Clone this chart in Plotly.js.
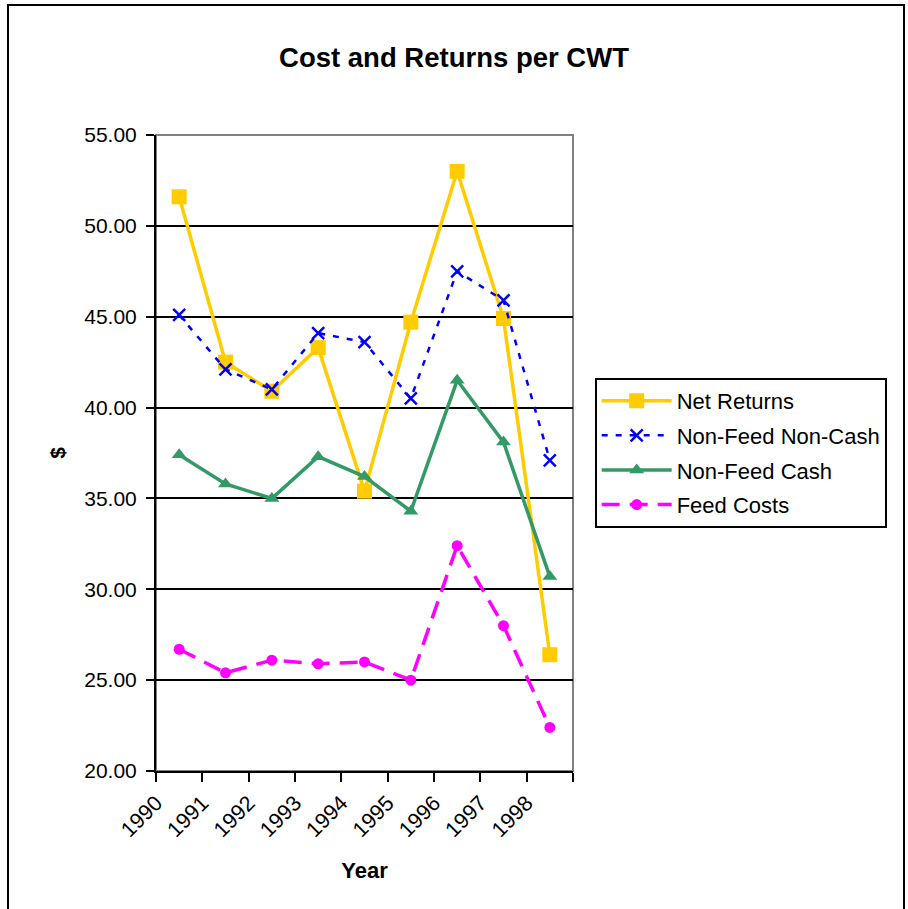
<!DOCTYPE html>
<html>
<head>
<meta charset="utf-8">
<script src="https://cdn.plot.ly/plotly-3.0.1.min.js"></script>
<style>
html,body{margin:0;padding:0;background:#fff;}
#chart{width:908px;height:909px;}
#frame{position:absolute;left:7px;top:4px;width:894px;height:910px;border:2px solid #000;pointer-events:none;}
</style>
</head>
<body>
<div id="chart"></div>
<div id="frame"></div>
<script>
const years = [1990, 1991, 1992, 1993, 1994, 1995, 1996, 1997, 1998];
const tickYears = [1990, 1991, 1992, 1993, 1994, 1995, 1996, 1997, 1998, 1999];
const tickLabels = ['1990', '1991', '1992', '1993', '1994', '1995', '1996', '1997', '1998', ''];
const netReturns = [51.6, 42.5, 40.9, 43.3, 35.4, 44.7, 53.0, 44.9, 26.4];
const nonFeedNonCash = [45.1, 42.1, 41.0, 44.1, 43.6, 40.5, 47.5, 45.9, 37.1];
const nonFeedCash = [37.4, 35.8, 35.0, 37.3, 36.2, 34.3, 41.5, 38.1, 30.7];
const feedCosts = [26.7, 25.4, 26.1, 25.9, 26.0, 25.0, 32.4, 28.0, 22.4];

// points sit midway between year tick marks (Excel "between tick marks")
const xs = years.map(y => y + 0.5);

const traces = [
  {x: xs, y: netReturns, name: 'Net Returns', legendgroup: 'a', mode: 'lines+markers',
   line: {color: '#FFCC00', width: 3.5},
   marker: {symbol: 'square', size: 15, color: '#FFCC00'}},
  {x: xs, y: nonFeedNonCash, name: 'Non-Feed Non-Cash', legendgroup: 'b', mode: 'lines+markers',
   line: {color: '#0000FF', width: 2.5, dash: '6px,8px'},
   marker: {symbol: 'x-thin', size: 12, color: '#0000FF', line: {color: '#0000FF', width: 2.5}}},
  {x: xs, y: nonFeedCash, name: 'Non-Feed Cash', legendgroup: 'c', mode: 'lines+markers',
   line: {color: '#339966', width: 3.5},
   marker: {symbol: 'triangle-up', size: 13, color: '#339966'}},
  {x: xs, y: feedCosts, name: 'Feed Costs', legendgroup: 'd', mode: 'lines+markers',
   line: {color: '#FF00FF', width: 3.5, dash: '18px,10px'},
   marker: {symbol: 'circle', size: 11, color: '#FF00FF'}}
];

const font = {family: 'Arial, "Liberation Sans", sans-serif', color: '#000'};

const layout = {
  width: 908, height: 909,
  margin: {l: 156, r: 335, t: 135, b: 138},
  paper_bgcolor: '#fff', plot_bgcolor: '#fff',
  font: Object.assign({size: 20}, font),
  showlegend: true,
  title: {text: '<b>Cost and Returns per CWT</b>', x: 0.5, xref: 'container', xanchor: 'center',
          y: 1 - 57/909, yref: 'container', yanchor: 'middle',
          font: Object.assign({size: 27.5}, font)},
  xaxis: {
    range: [1990, 1999], tickmode: 'array', tickvals: tickYears, ticktext: tickLabels,
    tickangle: -45, ticks: 'outside', ticklen: 9, tickwidth: 2, tickcolor: '#000',
    showline: true, linecolor: '#000', linewidth: 2, showgrid: false, zeroline: false,
    tickfont: Object.assign({size: 21.5}, font),
    title: {text: '<b>Year</b>', font: Object.assign({size: 22}, font), standoff: 22}
  },
  yaxis: {
    range: [20, 55], dtick: 5, tick0: 20, tickformat: '.2f',
    ticks: 'outside', ticklen: 8, tickwidth: 2, tickcolor: '#000', ticklabelstandoff: 5,
    showline: true, linecolor: '#000', linewidth: 2,
    showgrid: true, gridcolor: '#000', gridwidth: 2, zeroline: false,
    tickfont: Object.assign({size: 21}, font),
    title: {text: '<b>$</b>', font: Object.assign({size: 21}, font), standoff: 13}
  },
  legend: {
    x: 1.052, xanchor: 'left', y: 0.618, yanchor: 'top',
    bordercolor: '#000', borderwidth: 2, bgcolor: '#fff',
    font: Object.assign({size: 22}, font), itemwidth: 70, tracegroupgap: 3
  },
  shapes: [{type: 'rect', xref: 'paper', yref: 'paper', x0: 0, x1: 1, y0: 0, y1: 1,
            line: {color: '#808080', width: 2}, layer: 'below'}]
};

Plotly.newPlot('chart', traces, layout, {displayModeBar: false, staticPlot: true});
</script>
</body>
</html>
